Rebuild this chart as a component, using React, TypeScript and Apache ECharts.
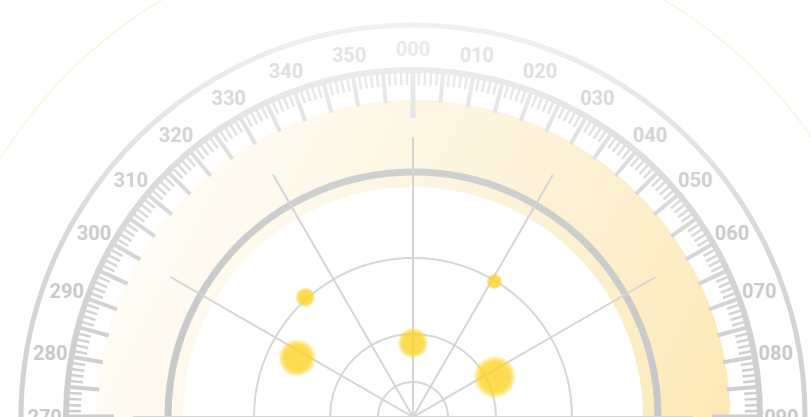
import React, { useEffect, useRef } from 'react';
import * as echarts from 'echarts';

// ---- data ----
const bearings = [318, 297, 0, 31, 64];      // degrees (clockwise from north)
const ranges = [161, 130, 74, 158, 91];       // radial distance (axis units)
const bubbleSizes = [20, 38, 31, 16, 43];     // bubble size
const rangeRings = [35, 83, 159];             // range rings
const MAX_RANGE = 280;
const SPOKE_INTERVAL = 30;
const SCALE_MAJOR = 5;                        // long ticks every 5°
const LABEL_STEP = 10;                        // labels every 10°
const labelShades = ['#eaeaea', '#e4e4e4', '#dedfdf', '#d8d9d9', '#d3d4d4', '#cfd0d0', '#cbcccd', '#c9cacb', '#c8c9ca', '#c8c9ca'];

const CENTER = [413, 417];
const SCALE_R = 347;
const LABEL_R = 368;
const LABEL_MARGIN = -26;
const FONT_SIZE = 20;
const TW = 33.7;
const TH = 20;

const grad = (stops: [number, string][], x: number, y: number, x2: number, y2: number) => ({
  type: 'linear', x, y, x2, y2, global: true,
  colorStops: stops.map(([offset, color]) => ({ offset, color })),
});

const tickGray = grad([[0, '#f4f4f4'], [0.2, '#e9e9e9'], [0.45, '#d9dada'], [1, '#cbcdce']], 0, 0, 0, 417);
const outerGray = grad([[0, '#f3f3f3'], [0.3, '#e4e5e5'], [0.6, '#d6d7d7'], [1, '#cfd1d2']], 0, 0, 0, 417);
const ringGray = grad([[0, '#cfd0d0'], [1, '#c5c7c8']], 0, 150, 0, 417);
const bandYellow = grad([[0, '#fde8b2'], [0.35, '#fdf1d3'], [0.7, '#fef9ec'], [1, '#ffffff']], 760, 417, 90, 80);
const bubbleFill = {
  type: 'radial', x: 0.5, y: 0.5, r: 0.5,
  colorStops: [
    { offset: 0, color: '#fdd01e' },
    { offset: 0.7, color: '#fdd328' },
    { offset: 0.86, color: 'rgba(253,213,42,0.6)' },
    { offset: 1, color: 'rgba(253,213,42,0)' },
  ],
};

const pad3 = (n: number) => String(n).padStart(3, '0');

// rich style per label: colour + padding so that each label is centred on LABEL_R
function buildRich() {
  const rich: Record<string, any> = {};
  const ra = SCALE_R + LABEL_MARGIN;
  const D = LABEL_R - ra;
  for (let a = 0; a < 360; a += LABEL_STEP) {
    const t = (a * Math.PI) / 180;
    const s = Math.sin(t);
    const c = Math.cos(t);
    const px = ra * s;
    const py = ra * c;
    const h = Math.abs(px) / SCALE_R < 0.3 ? 'center' : px > 0 ? 'left' : 'right';
    const v = Math.abs(py) / SCALE_R < 0.3 ? 'middle' : py > 0 ? 'bottom' : 'top';
    const ndx = h === 'center' ? 0 : h === 'left' ? TW / 2 : -TW / 2;
    const ndy = v === 'bottom' ? TH / 2 : v === 'middle' ? 0 : -TH / 2;
    const ex = D * s - ndx;
    const ey = D * c - ndy;
    let pl = 0, pr = 0, pt = 0, pb = 0;
    if (h === 'left') pl = Math.max(0, ex);
    else if (h === 'right') pr = Math.max(0, -ex);
    else if (ex > 0) pl = 2 * ex;
    else pr = -2 * ex;
    if (v === 'bottom') pb = Math.max(0, ey);
    else if (v === 'top') pt = Math.max(0, -ey);
    else if (ey > 0) pb = 2 * ey;
    else pt = -2 * ey;
    const d = Math.min(9, Math.min(a, 360 - a) / 10);
    rich['a' + a] = {
      color: labelShades[d], fontSize: FONT_SIZE, fontWeight: 'bold', fontFamily: 'Roboto',
      padding: [pt, pr, pb, pl],
    };
  }
  return rich;
}

export default function App() {
  const ref = useRef<HTMLDivElement>(null);
  useEffect(() => {
    if (!ref.current) return;
    const chart = echarts.init(ref.current, undefined, { renderer: 'svg' });

    const radii = [MAX_RANGE, SCALE_R, SCALE_R, 392, 487, 245, 273.5];
    const polar = radii.map((r) => ({ center: CENTER, radius: r }));

    const baseAngle = (i: number, extra: any) => ({
      polarIndex: i, type: 'value', min: 0, max: 360, startAngle: 90, clockwise: true,
      axisLabel: { show: false }, axisTick: { show: false }, splitLine: { show: false },
      axisLine: { show: false }, minorTick: { show: false }, ...extra,
    });

    const rich = buildRich();

    const angleAxis = [
      baseAngle(0, {
        interval: SPOKE_INTERVAL, z: 3,
        splitLine: { show: true, lineStyle: { color: '#d3d5d6', width: 2 } },
      }),
      baseAngle(1, {
        interval: SCALE_MAJOR, z: 2,
        axisLine: { show: true, lineStyle: { color: tickGray, width: 6 } },
        axisTick: { show: true, inside: true, length: 32, lineStyle: { color: tickGray, width: 4 } },
        minorTick: { show: true, splitNumber: 5, length: 15, lineStyle: { color: tickGray, width: 2.5 } },
        axisLabel: {
          show: true, margin: LABEL_MARGIN, rich,
          formatter: (v: number) => {
            const a = Math.round(v);
            if (a % LABEL_STEP !== 0 || a >= 360) return '';
            return `{a${a}|${pad3(a)}}`;
          },
        },
      }),
      baseAngle(2, {
        interval: 90, z: 2,
        axisTick: { show: true, inside: true, length: 48, lineStyle: { color: tickGray, width: 5 } },
      }),
      baseAngle(3, { z: 1, axisLine: { show: true, lineStyle: { color: outerGray, width: 5 } } }),
      baseAngle(4, { z: 1, axisLine: { show: true, lineStyle: { color: '#fdf0d6', width: 1.2 } } }),
      baseAngle(5, { z: 2, axisLine: { show: true, lineStyle: { color: ringGray, width: 7 } } }),
      baseAngle(6, { z: 0, axisLine: { show: true, lineStyle: { color: bandYellow, width: 87 } } }),
    ];

    const radiusAxis = radii.map((_, i) =>
      i === 0
        ? {
            polarIndex: 0, type: 'value', min: 0, max: MAX_RANGE, z: 3,
            axisLine: { show: false }, axisLabel: { show: false },
            axisTick: { show: false, customValues: rangeRings },
            splitLine: { show: true, lineStyle: { color: '#d5d7d8', width: 2 } },
          }
        : { polarIndex: i, type: 'value', min: 0, max: 1, show: false }
    );

    chart.setOption({
      animation: false,
      backgroundColor: '#ffffff',
      polar,
      angleAxis,
      radiusAxis,
      series: [
        {
          type: 'scatter',
          coordinateSystem: 'polar',
          polarIndex: 0,
          z: 10,
          data: bearings.map((b, i) => [ranges[i], b, bubbleSizes[i]]),
          symbolSize: (v: number[]) => v[2],
          itemStyle: { color: bubbleFill as any },
        },
      ],
    });
    return () => chart.dispose();
  }, []);
  return <div ref={ref} style={{ position: 'fixed', left: 0, top: 0, width: 811, height: 417 }} />;
}
